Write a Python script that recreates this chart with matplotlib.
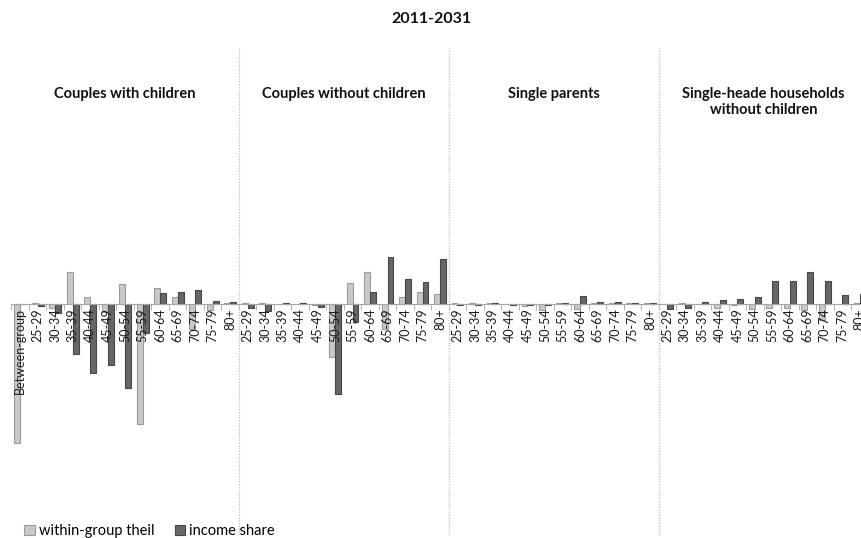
import matplotlib
matplotlib.use('Agg')
import matplotlib.pyplot as plt
import numpy as np

plt.rcParams['font.family'] = ['Lato', 'DejaVu Sans']

# Chart values (arbitrary units)
ages = ['25-29', '30-34', '35-39', '40-44', '45-49', '50-54', '55-59',
        '60-64', '65-69', '70-74', '75-79', '80+']
panels = ['Couples with children', 'Couples without children', 'Single parents',
          'Single-heade households\nwithout children']

cwc_theil = [-139, 1, -4, 32, 7.5, -7.5, 20, -120, 16, 7.5, -25, -6, 1]
cwc_share = [0, -1.5, -9, -50, -69, -61, -84, -29, 11, 12, 14, 3, 2]
cwo_theil = [1, 1, 0.5, 0.5, -1, -53, 21, 32, -25, 7, 12, 10]
cwo_share = [-4, -7, 1, 1, -3, -90, -18, 12, 47, 25, 22, 45]
sp_theil = [1, 1, 1, 0.5, -2, -6, 1, -5, 1, 1, 1, 1]
sp_share = [-1, -1, 1, -1, -1, -1, 1, 8, 2, 2.5, 1, 1]
sh_theil = [0.5, 1, 0.5, -4, -1, -5, -4, -4, -6, -16, 0.5, 1]
sh_share = [-4.5, -4, 2, 4, 5, 7, 23, 23, 32, 23, 9, 10]

labels = ['Between-group'] + ages * 4
theil = cwc_theil + cwo_theil + sp_theil + sh_theil
share = cwc_share + cwo_share + sp_share + sh_share

W, H = 862, 538
fig = plt.figure(figsize=(W / 100, H / 100), dpi=100)
# axes runs a little past the right edge, as in the original
ax = fig.add_axes([11.5 / W, 3 / H, 857 / W, 487 / H])

x = np.arange(len(labels))
w = 0.34
ax.bar(x - w / 2, theil, w, color='#c9c9c9', edgecolor='#9b9b9b', linewidth=0.8,
       label='within-group theil')
ax.bar(x + w / 2, share, w, color='#666666', edgecolor='#474747', linewidth=0.8,
       label='income share')

ax.set_xlim(-0.5, len(labels) - 0.5)
ax.set_ylim(-231, 256)

for s in ['top', 'right', 'left']:
    ax.spines[s].set_visible(False)
ax.spines['bottom'].set_position(('data', 0))
ax.spines['bottom'].set_color('#a6a6a6')
ax.set_yticks([])

ax.set_xticks(x)
ax.set_xticklabels(labels, rotation=90, fontsize=9, color='#1a1a1a')
ax.set_xticks(np.arange(-0.5, len(labels), 1), minor=True)
ax.tick_params(axis='x', which='major', length=0, pad=3)
ax.tick_params(axis='x', which='minor', length=4, color='#a6a6a6')

# dotted separators and panel headings
starts = [0, 13, 25, 37]
ends = [12, 24, 36, 48]
for b in [12.5, 24.5, 36.5]:
    ax.axvline(b, color='#c4c4c4', linestyle=(0, (1, 1)), linewidth=1)
for name, a, e in zip(panels, starts, ends):
    ax.text((a + e) / 2, 0.92, name, transform=ax.get_xaxis_transform(),
            ha='center', va='top', fontsize=10.5, fontweight='bold',
            color='#111111', linespacing=1.15)

fig.text(0.5, 0.964, '2011-2031', ha='center', va='center', fontsize=11.5,
         fontweight='bold', color='#111111')

fig.legend(loc='lower left', bbox_to_anchor=(0.013, -0.025), ncol=2, frameon=False,
           fontsize=10.5, handlelength=0.7, handleheight=0.7, handletextpad=0.3,
           columnspacing=1.4)

fig.savefig('out.png', dpi=100)
